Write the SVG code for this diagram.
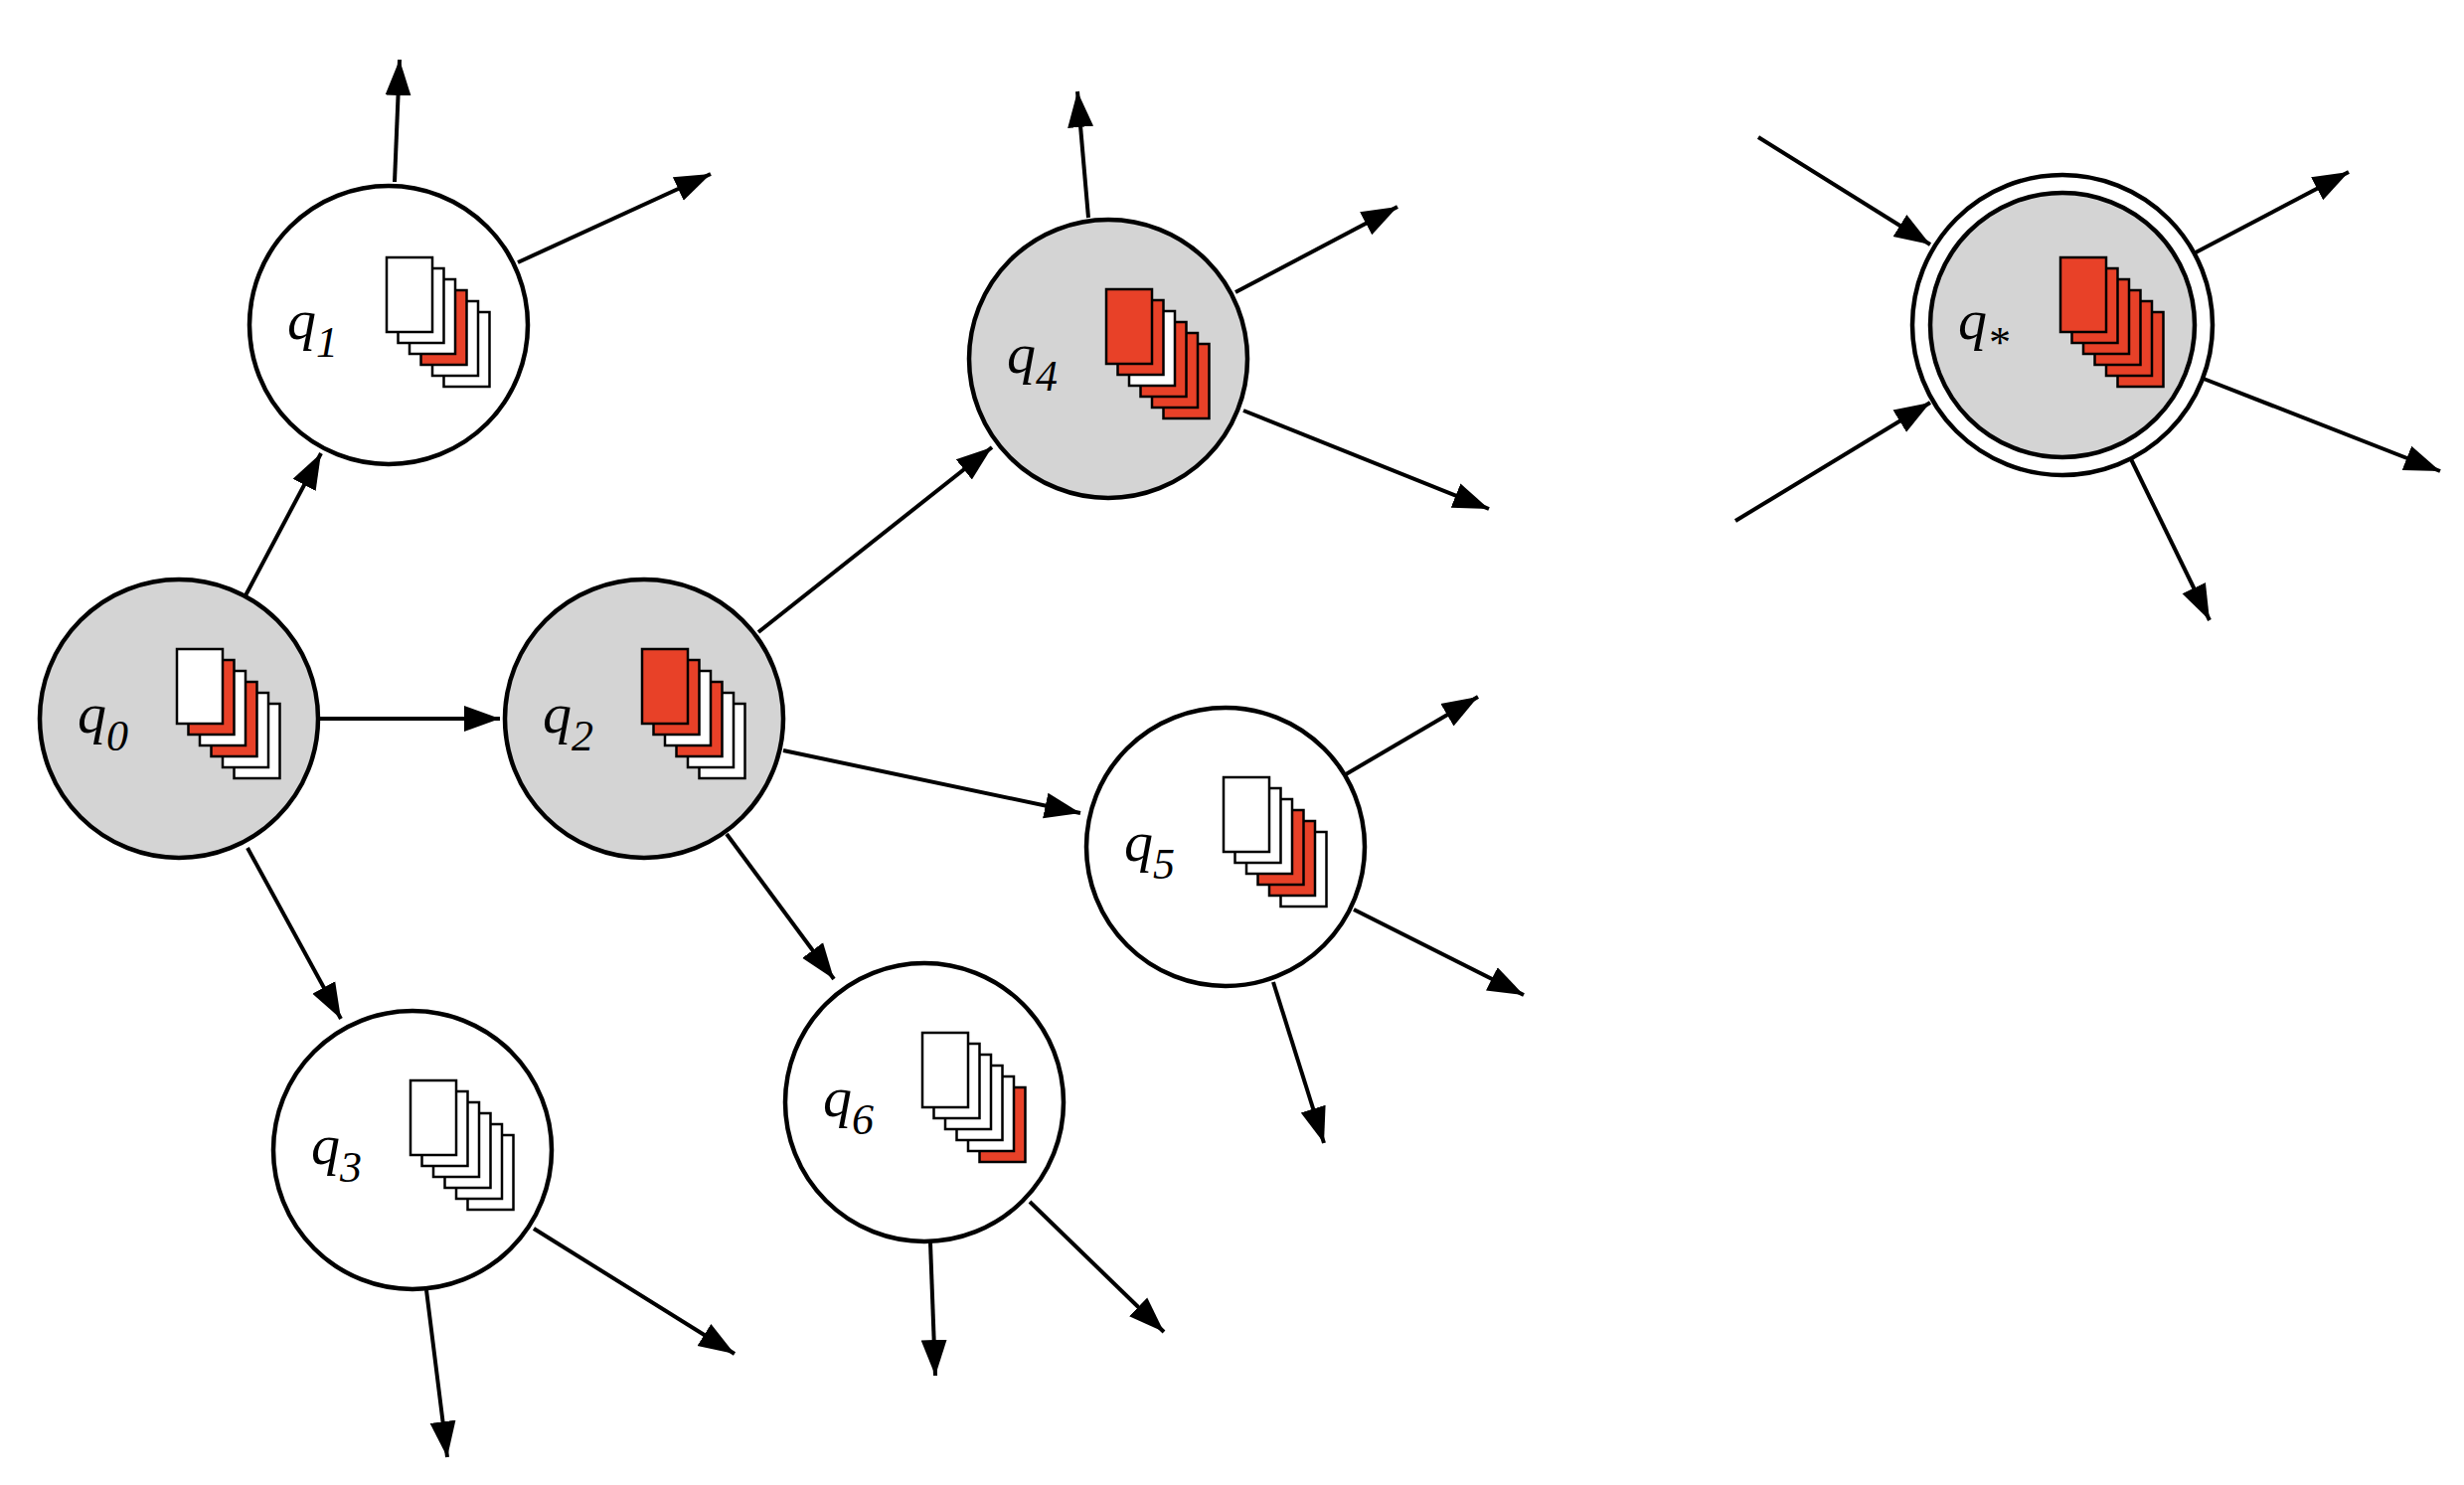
<svg xmlns="http://www.w3.org/2000/svg" width="2479" height="1494" viewBox="0 0 2479 1494">
<style>
.node{stroke:#000;stroke-width:4.5}
.g{fill:#d4d4d4}
.w{fill:#fff}
.cw{fill:#fff;stroke:#000;stroke-width:2.5}
.cr{fill:#e84128;stroke:#000;stroke-width:2.5}
.lbl{font-family:"Liberation Serif",serif;font-style:italic;font-size:58px}
.sub{font-size:44px}
.e{stroke:#000;stroke-width:4;fill:none;marker-end:url(#ah)}
</style>
<defs>
<marker id="ah" markerUnits="userSpaceOnUse" markerWidth="40" markerHeight="30" refX="36" refY="13" orient="auto" viewBox="0 0 40 26">
<path d="M0,0 L36,13 L0,26 Z" fill="#000"/>
</marker>
</defs>
<rect width="2479" height="1494" fill="#fff"/>
<g id="edges">
<line class="e" x1="246" y1="601" x2="323" y2="456"/>
<line class="e" x1="322" y1="723" x2="503" y2="723"/>
<line class="e" x1="249" y1="853" x2="343" y2="1025"/>
<line class="e" x1="397" y1="183" x2="402" y2="60"/>
<line class="e" x1="521" y1="264" x2="715" y2="175"/>
<line class="e" x1="763" y1="636" x2="998" y2="450"/>
<line class="e" x1="788" y1="755" x2="1087" y2="818"/>
<line class="e" x1="731" y1="839" x2="839" y2="985"/>
<line class="e" x1="1095" y1="219" x2="1084" y2="92"/>
<line class="e" x1="1243" y1="294" x2="1406" y2="208"/>
<line class="e" x1="1251" y1="413" x2="1498" y2="512"/>
<line class="e" x1="1354" y1="779" x2="1487" y2="701"/>
<line class="e" x1="1362" y1="915" x2="1533" y2="1001"/>
<line class="e" x1="1281" y1="988" x2="1332" y2="1150"/>
<line class="e" x1="429" y1="1298" x2="450" y2="1466"/>
<line class="e" x1="537" y1="1236" x2="739" y2="1362"/>
<line class="e" x1="936" y1="1250" x2="941" y2="1384"/>
<line class="e" x1="1036" y1="1209" x2="1171" y2="1340"/>
<line class="e" x1="1769" y1="138" x2="1942" y2="246"/>
<line class="e" x1="1746" y1="524" x2="1942" y2="405"/>
<line class="e" x1="2209" y1="254" x2="2363" y2="173"/>
<line class="e" x1="2217" y1="381" x2="2455" y2="474"/>
<line class="e" x1="2144" y1="462" x2="2223" y2="624"/>
</g>
<g id="q0">
<circle class="node g" cx="180" cy="723" r="140"/>
<text class="lbl" x="78" y="737">q<tspan class="sub" dy="18">0</tspan></text>
<rect class="cw" x="235.5" y="708" width="46" height="75"/>
<rect class="cw" x="224" y="697" width="46" height="75"/>
<rect class="cr" x="212.5" y="686" width="46" height="75"/>
<rect class="cw" x="201" y="675" width="46" height="75"/>
<rect class="cr" x="189.5" y="664" width="46" height="75"/>
<rect class="cw" x="178" y="653" width="46" height="75"/>
</g>
<g id="q1">
<circle class="node w" cx="391" cy="327" r="140"/>
<text class="lbl" x="289" y="341">q<tspan class="sub" dy="18">1</tspan></text>
<rect class="cw" x="446.5" y="314" width="46" height="75"/>
<rect class="cw" x="435" y="303" width="46" height="75"/>
<rect class="cr" x="423.5" y="292" width="46" height="75"/>
<rect class="cw" x="412" y="281" width="46" height="75"/>
<rect class="cw" x="400.5" y="270" width="46" height="75"/>
<rect class="cw" x="389" y="259" width="46" height="75"/>
</g>
<g id="q2">
<circle class="node g" cx="648" cy="723" r="140"/>
<text class="lbl" x="546" y="737">q<tspan class="sub" dy="18">2</tspan></text>
<rect class="cw" x="703.5" y="708" width="46" height="75"/>
<rect class="cw" x="692" y="697" width="46" height="75"/>
<rect class="cr" x="680.5" y="686" width="46" height="75"/>
<rect class="cw" x="669" y="675" width="46" height="75"/>
<rect class="cr" x="657.5" y="664" width="46" height="75"/>
<rect class="cr" x="646" y="653" width="46" height="75"/>
</g>
<g id="q3">
<circle class="node w" cx="415" cy="1157" r="140"/>
<text class="lbl" x="313" y="1171">q<tspan class="sub" dy="18">3</tspan></text>
<rect class="cw" x="470.5" y="1142" width="46" height="75"/>
<rect class="cw" x="459" y="1131" width="46" height="75"/>
<rect class="cw" x="447.5" y="1120" width="46" height="75"/>
<rect class="cw" x="436" y="1109" width="46" height="75"/>
<rect class="cw" x="424.5" y="1098" width="46" height="75"/>
<rect class="cw" x="413" y="1087" width="46" height="75"/>
</g>
<g id="q4">
<circle class="node g" cx="1115" cy="361" r="140"/>
<text class="lbl" x="1013" y="375">q<tspan class="sub" dy="18">4</tspan></text>
<rect class="cr" x="1170.5" y="346" width="46" height="75"/>
<rect class="cr" x="1159" y="335" width="46" height="75"/>
<rect class="cr" x="1147.5" y="324" width="46" height="75"/>
<rect class="cw" x="1136" y="313" width="46" height="75"/>
<rect class="cr" x="1124.5" y="302" width="46" height="75"/>
<rect class="cr" x="1113" y="291" width="46" height="75"/>
</g>
<g id="q5">
<circle class="node w" cx="1233" cy="852" r="140"/>
<text class="lbl" x="1131" y="866">q<tspan class="sub" dy="18">5</tspan></text>
<rect class="cw" x="1288.5" y="837" width="46" height="75"/>
<rect class="cr" x="1277" y="826" width="46" height="75"/>
<rect class="cr" x="1265.5" y="815" width="46" height="75"/>
<rect class="cw" x="1254" y="804" width="46" height="75"/>
<rect class="cw" x="1242.5" y="793" width="46" height="75"/>
<rect class="cw" x="1231" y="782" width="46" height="75"/>
</g>
<g id="q6">
<circle class="node w" cx="930" cy="1109" r="140"/>
<text class="lbl" x="828" y="1123">q<tspan class="sub" dy="18">6</tspan></text>
<rect class="cr" x="985.5" y="1094" width="46" height="75"/>
<rect class="cw" x="974" y="1083" width="46" height="75"/>
<rect class="cw" x="962.5" y="1072" width="46" height="75"/>
<rect class="cw" x="951" y="1061" width="46" height="75"/>
<rect class="cw" x="939.5" y="1050" width="46" height="75"/>
<rect class="cw" x="928" y="1039" width="46" height="75"/>
</g>
<g id="qstar">
<circle class="node w" cx="2075" cy="327" r="151"/>
<circle class="node g" cx="2075" cy="327" r="133"/>
<text class="lbl" x="1970" y="341">q<tspan class="sub" dy="18">*</tspan></text>
<rect class="cr" x="2130.5" y="314" width="46" height="75"/>
<rect class="cr" x="2119" y="303" width="46" height="75"/>
<rect class="cr" x="2107.5" y="292" width="46" height="75"/>
<rect class="cr" x="2096" y="281" width="46" height="75"/>
<rect class="cr" x="2084.5" y="270" width="46" height="75"/>
<rect class="cr" x="2073" y="259" width="46" height="75"/>
</g>
</svg>
